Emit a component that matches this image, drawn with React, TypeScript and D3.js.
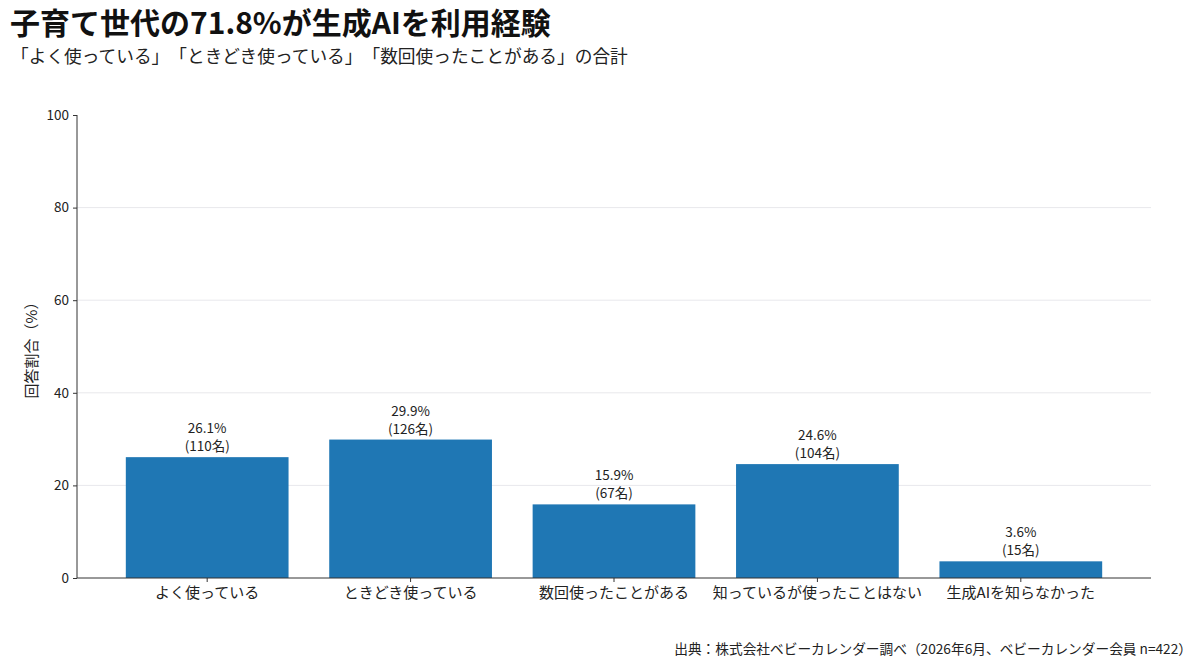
import React, { useEffect, useRef } from 'react';
import * as d3 from 'd3';

const categories = [
  'よく使っている',
  'ときどき使っている',
  '数回使ったことがある',
  '知っているが使ったことはない',
  '生成AIを知らなかった',
];
const percents = [26.1, 29.9, 15.9, 24.6, 3.6];
const counts = [110, 126, 67, 104, 15];
const yTicks = [0, 20, 40, 60, 80, 100];

const FONT = '"Noto Sans CJK JP", "Noto Sans", sans-serif';

export default function App() {
  const svgRef = useRef<SVGSVGElement | null>(null);

  useEffect(() => {
    const width = 1200;
    const height = 666;
    const svg = d3.select(svgRef.current);
    svg.selectAll('*').remove();

    const left = 77;
    const right = 1151;
    const top = 115;
    const bottom = 578;

    const x = d3
      .scaleBand<string>()
      .domain(categories)
      .range([left, right])
      .paddingInner(0.2)
      .paddingOuter(0.24);

    const y = d3.scaleLinear().domain([0, 100]).range([bottom, top]);

    svg.append('rect').attr('width', width).attr('height', height).attr('fill', '#fff');

    // title
    svg.append('text')
      .attr('x', 10)
      .attr('y', 34)
      .attr('font-family', FONT)
      .attr('font-size', 30)
      .attr('font-weight', 700)
      .attr('fill', '#111')
      .text('子育て世代の71.8%が生成AIを利用経験');

    svg.append('text')
      .attr('x', 11)
      .attr('y', 63)
      .attr('font-family', FONT)
      .attr('font-size', 17.7)
      .attr('fill', '#222')
      .text('「よく使っている」「ときどき使っている」「数回使ったことがある」の合計');

    // grid
    svg.append('g')
      .selectAll('line')
      .data(yTicks.filter((d) => d > 0 && d < 100))
      .enter()
      .append('line')
      .attr('x1', left)
      .attr('x2', right)
      .attr('y1', (d) => y(d))
      .attr('y2', (d) => y(d))
      .attr('stroke', '#e8e8ec')
      .attr('stroke-width', 1);

    // bars
    svg.append('g')
      .selectAll('rect')
      .data(categories)
      .enter()
      .append('rect')
      .attr('x', (d) => x(d)!)
      .attr('width', x.bandwidth())
      .attr('y', (d, i) => y(percents[i]))
      .attr('height', (d, i) => bottom - y(percents[i]))
      .attr('fill', '#1f77b4');

    // bar labels
    const lbl = svg.append('g')
      .attr('font-family', FONT)
      .attr('font-size', 13.5)
      .attr('fill', '#222')
      .attr('text-anchor', 'middle');
    categories.forEach((c, i) => {
      const cx = x(c)! + x.bandwidth() / 2;
      const yy = y(percents[i]);
      lbl.append('text').attr('x', cx).attr('y', yy - 24).text(`${percents[i]}%`);
      lbl.append('text').attr('x', cx).attr('y', yy - 6).text(`(${counts[i]}名)`);
    });

    // y axis
    const yAxis = d3.axisLeft(y).tickValues(yTicks).tickSize(4).tickPadding(4);
    const gy = svg.append('g').attr('transform', `translate(${left},0)`).call(yAxis);
    gy.select('.domain').attr('stroke', '#333').attr('d', `M-0,${top}V${bottom}`);
    gy.selectAll('.tick line').attr('stroke', '#333');
    gy.selectAll('.tick text')
      .attr('font-family', FONT)
      .attr('font-size', 13.5)
      .attr('fill', '#222');

    // x axis
    const xAxis = d3.axisBottom(x).tickSize(4).tickPadding(5);
    const gx = svg.append('g').attr('transform', `translate(0,${bottom})`).call(xAxis);
    gx.select('.domain').attr('stroke', '#333').attr('d', `M${left},0H${right}`);
    gx.selectAll('.tick line').attr('stroke', '#333');
    gx.selectAll('.tick text')
      .attr('font-family', FONT)
      .attr('font-size', 15)
      .attr('fill', '#222');

    // y label
    svg.append('text')
      .attr('transform', `translate(37,${(top + bottom) / 2}) rotate(-90)`)
      .attr('text-anchor', 'middle')
      .attr('font-family', FONT)
      .attr('font-size', 15)
      .attr('fill', '#222')
      .text('回答割合（%）');

    // source
    svg.append('text')
      .attr('x', 1192)
      .attr('y', 654)
      .attr('text-anchor', 'end')
      .attr('font-family', FONT)
      .attr('font-size', 13.7)
      .attr('fill', '#222')
      .text('出典：株式会社ベビーカレンダー調べ（2026年6月、ベビーカレンダー会員 n=422）');
  }, []);

  return (
    <svg
      ref={svgRef}
      width={1200}
      height={666}
      style={{
        display: 'block',
        position: 'absolute',
        left: 0,
        top: 0,
        textSpacingTrim: 'space-all',
      } as React.CSSProperties}
    />
  );
}
